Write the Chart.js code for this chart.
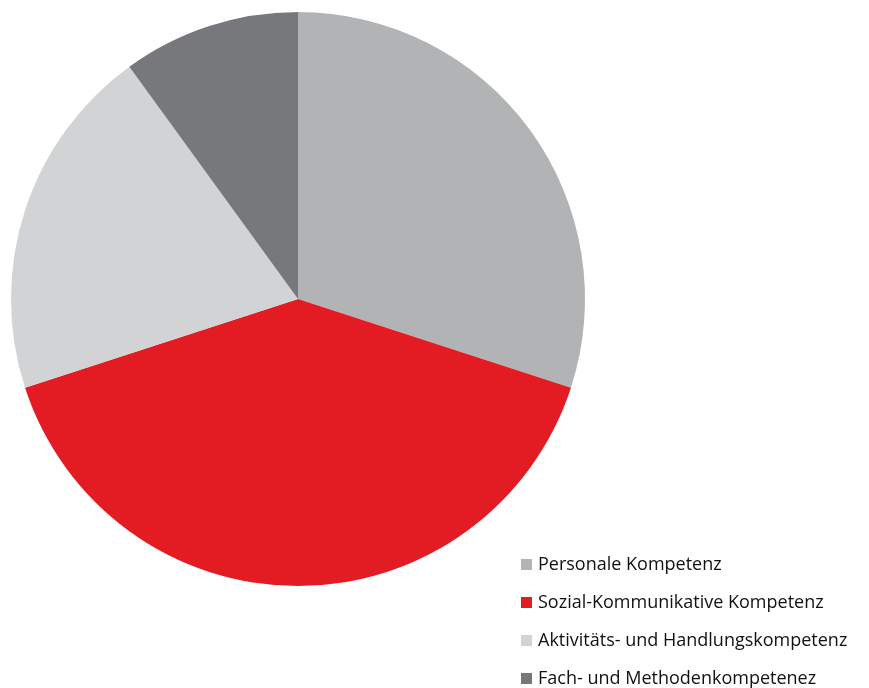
<!DOCTYPE html>
<html lang="de">
<head>
  <meta charset="UTF-8">
  <title>Kompetenzen</title>
  <script src="https://cdn.jsdelivr.net/npm/chart.js"></script>
  <style>
    html, body { margin: 0; padding: 0; background: #fff; }
    .wrap { position: relative; width: 869px; height: 688px; }
    #legend { position: absolute; left: 521px; top: 549px; margin: 0; padding: 0; list-style: none;
      font-family: "Open Sans", sans-serif; font-size: 18px; color: #111; }
    #legend li { height: 38px; line-height: 28px; white-space: nowrap; }
    #legend span { display: inline-block; width: 11px; height: 11px; margin-right: 6px; vertical-align: 0px; }
  </style>
</head>
<body>
  <div class="wrap">
    <canvas id="pieChart" width="869" height="688"></canvas>
    <ul id="legend"></ul>
  </div>

  <script>
    const labels = ['Personale Kompetenz', 'Sozial-Kommunikative Kompetenz', 'Aktivitäts- und Handlungskompetenz', 'Fach- und Methodenkompetenez'];
    const values = [30, 40, 20, 10];
    const colors = ['#b1b3b4', '#e31b23', '#d1d3d4', '#77787b'];

    // HTML legend built from the same arrays
    const legend = document.getElementById('legend');
    labels.forEach((l, i) => {
      const li = document.createElement('li');
      li.innerHTML = `<span style="background:${colors[i]}"></span>${l}`;
      legend.appendChild(li);
    });

    new Chart(document.getElementById('pieChart'), {
      type: 'pie',
      data: {
        labels: labels,
        datasets: [{
          data: values,
          backgroundColor: colors,
          borderWidth: 0
        }]
      },
      options: {
        responsive: false,
        animation: false,
        layout: { padding: { left: 11, top: 12, right: 284, bottom: 102 } },
        plugins: {
          legend: { display: false },
          tooltip: { enabled: false }
        }
      }
    });
  </script>
</body>
</html>
